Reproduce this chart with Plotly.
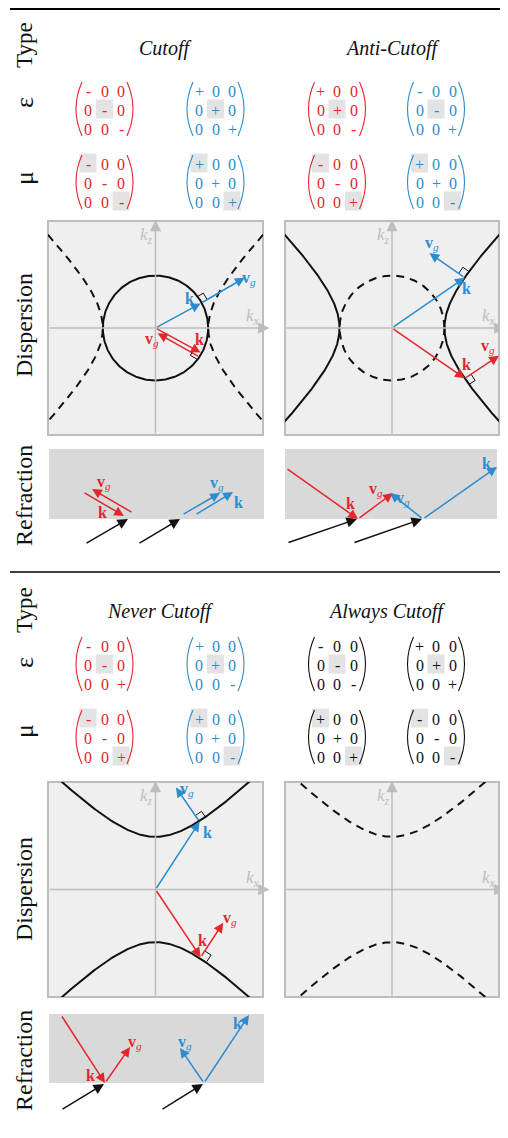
import numpy as np
import plotly.graph_objects as go

W, H = 508, 1138          # target page size
OFF = 8                   # default page margin around the plot div
FW, FH = W - OFF, H - 2 * OFF
RED = "#E3272D"
BLUE = "#2B8DD0"
BLACK = "#111111"
AXGRAY = "#BDBDBD"
PANEL_BG = "#EFEFEF"
REFR_BG = "#D9D9D9"
HILITE = "#E3E3E3"
SERIF = "Liberation Serif, Times New Roman, serif"

# ---------------- data ----------------
type_names_top = ["Cutoff", "Anti-Cutoff"]
type_names_bottom = ["Never Cutoff", "Always Cutoff"]
row_names = ["Type", "ε", "μ", "Dispersion", "Refraction"]

# diagonal signs of the 3x3 tensors (off-diagonals are 0)
eps_diag_top = [["-", "-", "-"], ["+", "+", "+"], ["+", "+", "-"], ["-", "-", "+"]]
mu_diag_top = [["-", "-", "-"], ["+", "+", "+"], ["-", "-", "+"], ["+", "+", "-"]]
eps_diag_bottom = [["-", "-", "+"], ["+", "+", "-"], ["-", "-", "-"], ["+", "+", "+"]]
mu_diag_bottom = [["-", "-", "+"], ["+", "+", "-"], ["+", "+", "+"], ["-", "-", "-"]]
matrix_colors_top = [RED, BLUE, RED, BLUE]
matrix_colors_bottom = [RED, BLUE, BLACK, BLACK]
eps_highlight = [(1, 1)]
mu_highlight = [(0, 0), (2, 2)]

# dispersion: iso-frequency contours (k-space, panel spans [-1, 1])
circle_radius = 0.49
hyperbola_vertex = 0.49
disp_curves = [
    [("circle", "solid"), ("hyp_x", "dash")],
    [("hyp_x", "solid"), ("circle", "dash")],
    [("hyp_z", "solid")],
    [("hyp_z", "dash")],
]
# wave vector / group velocity arrows per panel: (start, end)
disp_k_blue = [((0, 0), (0.42, 0.23)), ((0, 0), (0.68, 0.47)), ((0, 0), (0.41, 0.63)), None]
disp_vg_blue = [((0.42, 0.23), (0.83, 0.47)), ((0.68, 0.47), (0.35, 0.70)), ((0.41, 0.63), (0.19, 0.95)), None]
disp_k_red = [((0, 0), (0.42, -0.23)), ((0, 0), (0.68, -0.47)), ((0, 0), (0.42, -0.63)), None]
disp_vg_red = [((0.41, -0.27), (0.02, -0.05)), ((0.68, -0.47), (1.0, -0.26)), ((0.42, -0.63), (0.63, -0.31)), None]
right_angle_side = [1, -1, -1, 0]
disp_lbl_k_blue = [(0.32, 0.28), (0.70, 0.37), (0.48, 0.53), None]
disp_lbl_vg_blue = [(0.87, 0.46), (0.37, 0.79), (0.29, 0.93), None]
disp_lbl_k_red = [(0.41, -0.11), (0.70, -0.34), (0.44, -0.47), None]
disp_lbl_vg_red = [(-0.03, -0.11), (0.90, -0.17), (0.69, -0.27), None]

# refraction: rays in panel units (px right of panel edge, px above interface)
refr_black = [
    [((36, -25), (79, 0)), ((89, -25), (131, 0))],
    [((2, -24), (72, 0)), ((68, -24), (137, 0))],
    [((12, -27), (55, -1)), ((112, -27), (154, -1))],
]
refr_k_red = [((34, 27), (75, 3)), ((1, 51), (73, 0)), ((12, 68), (56, 0))]
refr_vg_red = [((84, 6), (43, 30)), ((73, 0), (108, 26)), ((56, 0), (81, 36))]
refr_vg_blue = [((133, 4), (171, 26)), ((138, 0), (105, 26)), ((155, 0), (131, 35))]
refr_k_blue = [((146, 4), (184, 27)), ((138, 0), (212, 52)), ((155, 0), (200, 68))]
refr_lbl_k_red = [(53, 7), (65, 16), (41, 8)]
refr_lbl_vg_red = [(55, 37), (91, 30), (86, 41)]
refr_lbl_vg_blue = [(168, 36), (118, 21), (136, 41)]
refr_lbl_k_blue = [(189, 17), (201, 56), (188, 60)]

# ---------------- layout geometry (page pixels) ----------------
disp_boxes = [(48, 221, 263, 435), (285, 221, 499, 435), (48, 782, 263, 997), (285, 782, 499, 997)]
# (left, top, right, interface, below)
refr_boxes = [(49, 449, 264, 519, 30), (285, 449, 497, 519, 30), (49, 1014, 264, 1083, 31)]
matrix_cx = [104.5, 215.5, 337, 436]
section_rows = [
    (48, 109, 182, [165, 392], type_names_top, [eps_diag_top, mu_diag_top], matrix_colors_top),
    (611, 664, 737, [160, 386], type_names_bottom, [eps_diag_bottom, mu_diag_bottom], matrix_colors_bottom),
]
row_label_pos = [(45, 103, 178, 325, 496), (610, 663, 731, 889, 1061)]
row_label_size = [23, 26, 26, 24, 24]


def dx(x0, x1):
    return [(x0 - OFF) / FW, (x1 - OFF) / FW]


def dy(y0, y1):
    return [1 - (y1 - OFF) / FH, 1 - (y0 - OFF) / FH]


fig = go.Figure()
layout = dict(
    width=FW, height=FH, margin=dict(l=0, r=0, t=0, b=0),
    paper_bgcolor="white", plot_bgcolor="rgba(0,0,0,0)", showlegend=False,
)
shapes, annots = [], []


def ax_cfg(domain, rng, anchor):
    return dict(domain=domain, range=rng, visible=False, fixedrange=True, anchor=anchor)


# canvas axis in page-pixel units
layout["xaxis"] = ax_cfg([0, 1], [OFF, OFF + FW], "y")
layout["yaxis"] = ax_cfg([0, 1], [OFF + FH, OFF], "x")
fig.add_trace(go.Scatter(x=[OFF], y=[OFF], mode="markers", marker=dict(opacity=0), hoverinfo="skip", xaxis="x", yaxis="y"))


def txt(x, y, text, size, color=BLACK, ref=("x", "y"), angle=0, **kw):
    annots.append(dict(x=x, y=y, xref=ref[0], yref=ref[1], text=text, showarrow=False,
                       font=dict(family=SERIF, size=size, color=color), textangle=angle,
                       xanchor="center", yanchor="middle", **kw))


def arrow(start, end, color, ref, width=1.5, size=1.3, head=2):
    annots.append(dict(x=end[0], y=end[1], ax=start[0], ay=start[1], xref=ref[0], yref=ref[1],
                       axref=ref[0], ayref=ref[1], text="", showarrow=True, arrowhead=head,
                       arrowsize=size, arrowwidth=width, arrowcolor=color, standoff=0, startstandoff=0))


# rules
shapes.append(dict(type="line", xref="x", yref="y", x0=10, x1=W, y0=9, y1=9, line=dict(color="black", width=2)))
shapes.append(dict(type="line", xref="x", yref="y", x0=10, x1=W, y0=572, y1=572, line=dict(color="black", width=1.5)))

# row labels
for pos in row_label_pos:
    for name, y, sz in zip(row_names, pos, row_label_size):
        txt(24, y, name, sz, angle=-90)

# titles and matrices
COL_DX, ROW_DY = 16.5, 19
for title_y, eps_y, mu_y, title_xs, names, diags, colors in section_rows:
    for name, tx in zip(names, title_xs):
        txt(tx, title_y, "<i>%s</i>" % name, 20)
    for diag_set, rc, hl in zip(diags, [eps_y, mu_y], [eps_highlight, mu_highlight]):
        for m, cx in enumerate(matrix_cx):
            col = colors[m]
            for (i, j) in hl:
                x = cx + (j - 1) * COL_DX
                y = rc + (i - 1) * ROW_DY
                shapes.append(dict(type="rect", xref="x", yref="y", x0=x - 8.5, x1=x + 8.5,
                                   y0=y - 9.5, y1=y + 9.5, fillcolor=HILITE, line=dict(width=0), layer="below"))
            for i in range(3):
                for j in range(3):
                    s = diag_set[m][i] if i == j else "0"
                    txt(cx + (j - 1) * COL_DX, rc + (i - 1) * ROW_DY + 1, s, 16, color=col)
            for sgn in (-1, 1):
                xe = cx + sgn * 22.5
                xc = cx + sgn * 34.5
                shapes.append(dict(type="path", xref="x", yref="y",
                                   path="M %.1f,%.1f Q %.1f,%.1f %.1f,%.1f" % (xe, rc - 27, xc, rc, xe, rc + 27),
                                   line=dict(color=col, width=1.1)))

# dispersion panels
for p, (x0, y0, x1, y1) in enumerate(disp_boxes):
    n = p + 2
    xa, ya = "x%d" % n, "y%d" % n
    layout["xaxis%d" % n] = ax_cfg(dx(x0, x1), [-1, 1], ya)
    layout["yaxis%d" % n] = ax_cfg(dy(y0, y1), [-1, 1], xa)
    shapes.append(dict(type="rect", xref=xa + " domain", yref=ya + " domain", x0=0, x1=1, y0=0, y1=1,
                       fillcolor=PANEL_BG, line=dict(color=AXGRAY, width=2), layer="below"))
    ref = (xa, ya)
    arrow((-1, 0), (1.06, 0), AXGRAY, ref, width=1.5, size=1.5)
    arrow((0, -1), (0, 1.01), AXGRAY, ref, width=1.5, size=1.5)
    txt(0.91, 0.10, "<i>k</i><sub><i>x</i></sub>", 17, AXGRAY, ref)
    txt(-0.08, 0.86, "<i>k</i><sub><i>z</i></sub>", 17, AXGRAY, ref)
    for kind, style in disp_curves[p]:
        dash = "solid" if style == "solid" else "8px,6px"
        if kind == "circle":
            th = np.linspace(0, 2 * np.pi, 300)
            segs = [(circle_radius * np.cos(th), circle_radius * np.sin(th))]
        else:
            t = np.linspace(-2.2, 2.2, 300)
            a = hyperbola_vertex
            if kind == "hyp_x":
                segs = [(a * np.cosh(t), a * np.sinh(t)), (-a * np.cosh(t), a * np.sinh(t))]
            else:
                segs = [(a * np.sinh(t), a * np.cosh(t)), (a * np.sinh(t), -a * np.cosh(t))]
        for sx, sy in segs:
            fig.add_trace(go.Scatter(x=sx, y=sy, mode="lines", xaxis=xa, yaxis=ya, hoverinfo="skip",
                                     line=dict(color=BLACK, width=2, dash=dash)))
    if disp_k_blue[p] is None:
        continue
    for kv, vg in [(disp_k_blue[p], disp_vg_blue[p]), (disp_k_red[p], disp_vg_red[p])]:
        tip = np.array(kv[1], float)
        u = np.array(vg[1], float) - np.array(vg[0], float)
        u /= np.linalg.norm(u)
        side = right_angle_side[p]
        tv = np.array([-u[1], u[0]]) if side > 0 else np.array([u[1], -u[0]])
        s = 0.07
        pts = [tip + s * u, tip + s * u + s * tv, tip + s * tv]
        fig.add_trace(go.Scatter(x=[q[0] for q in pts], y=[q[1] for q in pts], mode="lines",
                                 xaxis=xa, yaxis=ya, hoverinfo="skip", line=dict(color=BLACK, width=1)))
    arrow(*disp_k_blue[p], BLUE, ref)
    arrow(*disp_vg_blue[p], BLUE, ref)
    arrow(*disp_k_red[p], RED, ref)
    arrow(*disp_vg_red[p], RED, ref)
    txt(*disp_lbl_k_blue[p], "<b>k</b>", 16, BLUE, ref)
    txt(*disp_lbl_vg_blue[p], "<b>v</b><sub><i>g</i></sub>", 16, BLUE, ref)
    txt(*disp_lbl_k_red[p], "<b>k</b>", 16, RED, ref)
    txt(*disp_lbl_vg_red[p], "<b>v</b><sub><i>g</i></sub>", 16, RED, ref)

# refraction panels
for p, (x0, top, x1, yi, below) in enumerate(refr_boxes):
    n = p + 6
    xa, ya = "x%d" % n, "y%d" % n
    layout["xaxis%d" % n] = ax_cfg(dx(x0, x1), [0, x1 - x0], ya)
    layout["yaxis%d" % n] = ax_cfg(dy(top, yi + below), [-below, yi - top], xa)
    ref = (xa, ya)
    shapes.append(dict(type="rect", xref=xa, yref=ya, x0=0, x1=x1 - x0, y0=0, y1=yi - top,
                       fillcolor=REFR_BG, line=dict(width=0), layer="below"))
    fig.add_trace(go.Scatter(x=[0], y=[0], mode="markers", marker=dict(opacity=0), xaxis=xa, yaxis=ya, hoverinfo="skip"))
    for seg in refr_black[p]:
        arrow(*seg, BLACK, ref, width=1.5, size=1.4)
    arrow(*refr_k_red[p], RED, ref)
    arrow(*refr_vg_red[p], RED, ref)
    arrow(*refr_vg_blue[p], BLUE, ref)
    arrow(*refr_k_blue[p], BLUE, ref)
    txt(*refr_lbl_k_red[p], "<b>k</b>", 16, RED, ref)
    txt(*refr_lbl_vg_red[p], "<b>v</b><sub><i>g</i></sub>", 16, RED, ref)
    txt(*refr_lbl_vg_blue[p], "<b>v</b><sub><i>g</i></sub>", 16, BLUE, ref)
    txt(*refr_lbl_k_blue[p], "<b>k</b>", 16, BLUE, ref)

layout["shapes"] = shapes
layout["annotations"] = annots
fig.update_layout(**layout)
fig.write_html("out.html")
